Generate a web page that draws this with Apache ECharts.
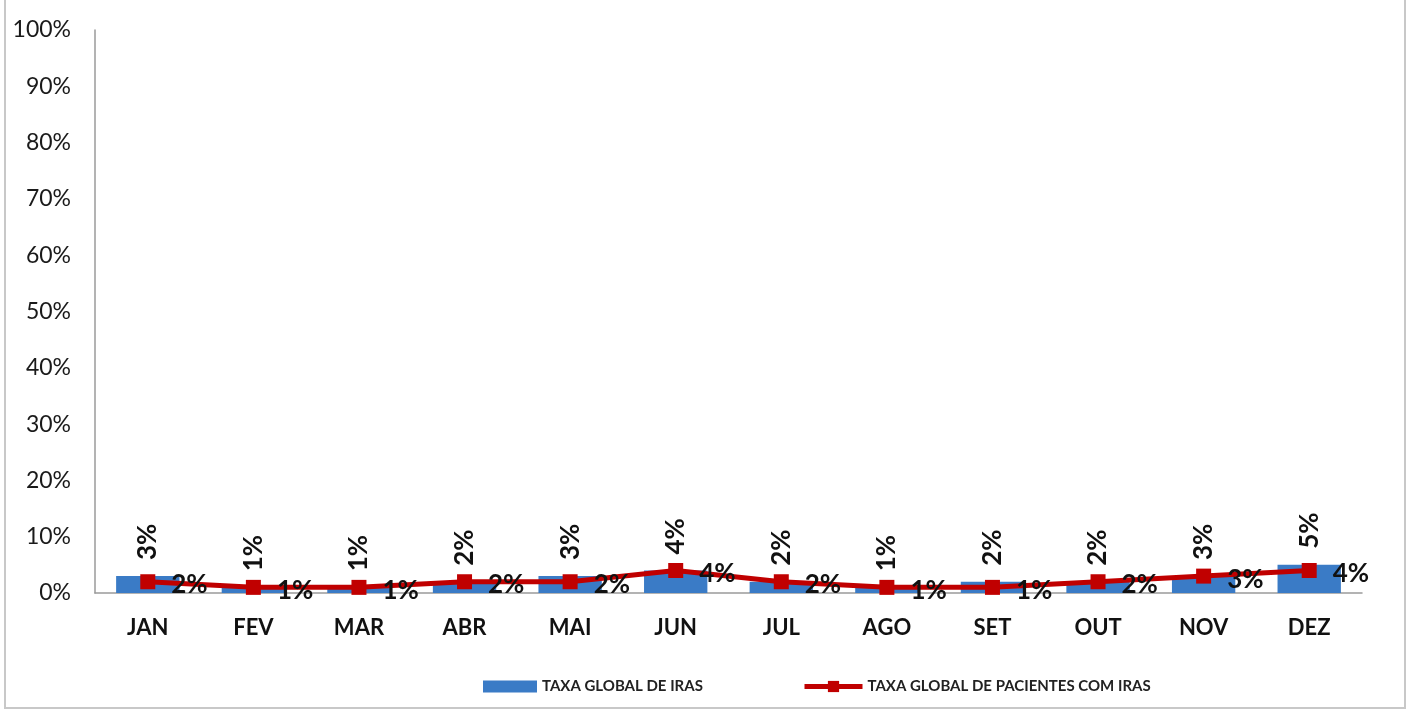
<!DOCTYPE html>
<html>
<head>
<meta charset="utf-8">
<script src="https://cdn.jsdelivr.net/npm/echarts@6/dist/echarts.min.js"></script>
<style>
  html, body { margin: 0; padding: 0; background: #ffffff; }
  #chart { width: 1411px; height: 713px; }
</style>
</head>
<body>
<div id="chart"></div>
<script>
// Monthly infection rates (%)
const months = ['JAN', 'FEV', 'MAR', 'ABR', 'MAI', 'JUN', 'JUL', 'AGO', 'SET', 'OUT', 'NOV', 'DEZ'];
const taxaGlobalIras = [3, 1, 1, 2, 3, 4, 2, 1, 2, 2, 3, 5];
const taxaPacientesIras = [2, 1, 1, 2, 2, 4, 2, 1, 1, 2, 3, 4];
const yTicks = [0, 10, 20, 30, 40, 50, 60, 70, 80, 90, 100];

const FONT = 'Lato, "Open Sans", sans-serif';
const BAR_NAME = 'TAXA GLOBAL DE IRAS';
const LINE_NAME = 'TAXA GLOBAL DE PACIENTES COM IRAS';

const chart = echarts.init(document.getElementById('chart'), null, { renderer: 'canvas' });

const legendText = { fontFamily: FONT, fontSize: 15, fontWeight: 'bold', color: '#222' };

chart.setOption({
  animation: false,
  backgroundColor: '#ffffff',
  textStyle: { fontFamily: FONT },
  graphic: [
    {
      type: 'polyline',
      shape: { points: [[5, 0], [5, 708], [1405, 708], [1405, 0]] },
      style: { stroke: '#c8c8c8', lineWidth: 2, fill: null },
      silent: true
    }
  ],
  grid: { left: 95, right: 49, top: 30, bottom: 120, containLabel: false },
  legend: [
    {
      left: 478,
      top: 674,
      itemWidth: 54,
      itemHeight: 12,
      itemGap: 6,
      textStyle: legendText,
      data: [{ name: BAR_NAME, icon: 'rect' }]
    },
    {
      left: 797,
      top: 674,
      itemWidth: 58,
      itemHeight: 14,
      textStyle: legendText,
      lineStyle: { width: 5 },
      data: [{ name: LINE_NAME }]
    }
  ],
  xAxis: {
    type: 'category',
    data: months,
    axisLine: { show: true, lineStyle: { color: '#9a9a9a', width: 1.5 } },
    axisTick: { show: false },
    axisLabel: {
      margin: 24,
      fontFamily: FONT,
      fontSize: 22,
      fontWeight: 'bold',
      color: '#111'
    }
  },
  yAxis: {
    type: 'value',
    min: 0,
    max: 100,
    interval: 10,
    splitLine: { show: false },
    axisLine: { show: true, lineStyle: { color: '#9a9a9a', width: 1.5 } },
    axisTick: { show: false },
    axisLabel: {
      margin: 24,
      fontFamily: FONT,
      fontSize: 23,
      color: '#1a1a1a',
      formatter: v => (yTicks.includes(v) ? v + '%' : '')
    }
  },
  series: [
    {
      name: BAR_NAME,
      type: 'bar',
      data: taxaGlobalIras,
      barWidth: '60%',
      itemStyle: { color: '#3a7bc6' },
      label: {
        show: true,
        position: 'top',
        rotate: 90,
        distance: 16,
        align: 'left',
        verticalAlign: 'middle',
        formatter: p => p.value + '%',
        fontFamily: FONT,
        fontSize: 26,
        fontWeight: 'bold',
        color: '#111'
      },
      z: 2
    },
    {
      name: LINE_NAME,
      type: 'line',
      data: taxaPacientesIras,
      symbol: 'rect',
      symbolSize: 15,
      lineStyle: { color: '#c00000', width: 5 },
      itemStyle: { color: '#c00000' },
      label: {
        show: true,
        position: 'right',
        distance: 16,
        offset: [0, 3],
        formatter: p => p.value + '%',
        fontFamily: FONT,
        fontSize: 26,
        fontWeight: 'bold',
        color: '#111'
      },
      z: 3
    }
  ]
});
</script>
</body>
</html>
